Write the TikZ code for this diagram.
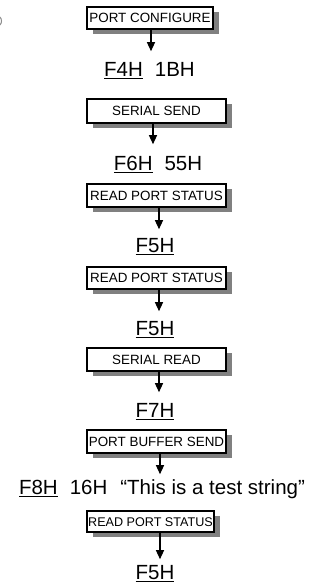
\documentclass[tikz,border=0pt]{standalone}
\usepackage{fontspec}
\setmainfont{Liberation Sans}
\usetikzlibrary{arrows.meta,shadows}
\newcommand\ulx[1]{\setbox0\hbox{#1}\rlap{\rule[-3pt]{\wd0}{1.5pt}}\box0}
\tikzset{
  boxst/.style={draw=black, line width=1.3pt, fill=white, inner sep=0pt,
    font=\fontsize{13.4}{13.4}\selectfont, text height=9.6pt, text depth=0pt,
    drop shadow={shadow xshift=6pt, shadow yshift=-5pt, fill=black!50, opacity=1}},
  codest/.style={inner sep=0pt, anchor=base, text height=14.6pt, text depth=0pt,
    font=\fontsize{20.5}{20.5}\selectfont},
  arr/.style={line width=1.3pt, -{Triangle[length=9pt,width=8pt]}},
}
\begin{document}
\begin{tikzpicture}[x=1pt,y=-1pt]
\useasboundingbox (0,0) rectangle (320,587);
% faint mark at the left edge
\draw[black!45, line width=1pt] (0,17) .. controls (2,19) and (2,23) .. (0,25);

\node[boxst, minimum width=126pt, minimum height=22pt] (b1) at (150,18) {PORT CONFIGURE};
\node[codest] (t1) at (149.5,76) {\ulx{F4H}\hspace{12pt}1BH};

\node[boxst, minimum width=139pt, minimum height=24pt] (b2) at (156.5,111) {SERIAL SEND};
\node[codest] (t2) at (158,170) {\ulx{F6H}\hspace{12pt}55H};

\node[boxst, minimum width=139pt, minimum height=23pt] (b3) at (156.5,195.5) {READ PORT STATUS};
\node[codest] (t3) at (155,252) {\ulx{F5H}};

\node[boxst, minimum width=139pt, minimum height=22pt] (b4) at (156.5,278) {READ PORT STATUS};
\node[codest] (t4) at (155,335) {\ulx{F5H}};

\node[boxst, minimum width=139pt, minimum height=23pt] (b5) at (156.5,359.5) {SERIAL READ};
\node[codest] (t5) at (155,417) {\ulx{F7H}};

\node[boxst, minimum width=139pt, minimum height=23pt] (b6) at (156.5,441.5) {PORT BUFFER SEND};
\node[codest] (t6) at (162,494) {\ulx{F8H}\hspace{12pt}16H\hspace{13pt}“This is a test string”};

\node[boxst, minimum width=127pt, minimum height=21pt, font=\fontsize{12.6}{12.6}\selectfont] (b7) at (150.5,521.5) {READ PORT STATUS};
\node[codest] (t7) at (155,579) {\ulx{F5H}};

\draw[arr, shorten >=10pt] ([xshift=1pt]b1.south) -- ([xshift=1pt]b1.south |- t1.north);
\draw[arr, shorten >=11pt] ([xshift=-3.5pt]b2.south) -- ([xshift=-3.5pt]b2.south |- t2.north);
\draw[arr, shorten >=8pt] ([xshift=2.5pt]b3.south) -- ([xshift=2.5pt]b3.south |- t3.north);
\draw[arr, shorten >=9pt] ([xshift=2.5pt]b4.south) -- ([xshift=2.5pt]b4.south |- t4.north);
\draw[arr, shorten >=10pt] ([xshift=2.5pt]b5.south) -- ([xshift=2.5pt]b5.south |- t5.north);
\draw[arr, shorten >=5pt] ([xshift=3.5pt]b6.south) -- ([xshift=3.5pt]b6.south |- t6.north);
\draw[arr, shorten >=5pt] ([xshift=9.5pt]b7.south) -- ([xshift=9.5pt]b7.south |- t7.north);
\end{tikzpicture}
\end{document}
